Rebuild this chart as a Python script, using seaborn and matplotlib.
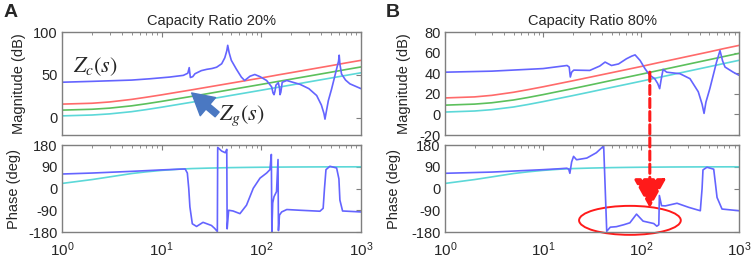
import matplotlib
matplotlib.use('Agg')
import matplotlib.pyplot as plt
import seaborn as sns
from matplotlib.patches import Ellipse, ConnectionPatch

# grid impedance curves (shared by both panels)
f_g = [1, 2, 3, 5, 7, 10, 15, 20, 30, 50, 70, 100, 150, 200, 300, 500, 700, 1000]
mag_red = [16, 17, 18.5, 21.5, 24, 26.8, 30.2, 32.6, 36.1, 40.5, 43.4, 46.5, 50.2, 52.7, 56.3, 60.8, 63.9, 67]
mag_green = [9, 10, 11.3, 14, 16.4, 19.2, 22.6, 25, 28.5, 33, 35.9, 39, 42.6, 45.1, 48.7, 53.2, 56.2, 59.3]
mag_cyan = [2.3, 3.3, 4.6, 7.2, 9.6, 12.4, 15.8, 18.2, 21.7, 26.2, 29.1, 32.2, 35.8, 38.3, 41.9, 46.4, 49.4, 52.5]
ph_cyan = [21, 37, 48, 62, 69, 75, 80, 82.5, 84.5, 86.5, 87.3, 88, 88.6, 89, 89.3, 89.6, 89.7, 89.8]

# converter impedance, capacity ratio 20%
fA_mag = [1, 2, 5, 7.6, 12, 16.5, 18.3, 18.9, 19.4, 20.5, 21.6, 25, 28.3, 32, 35.6, 40, 43, 45, 46, 47.5,
          50, 56, 63, 68, 77, 86, 97, 113, 127, 131, 134, 137, 140, 148, 152, 154, 157, 162, 180, 245,
          300, 359, 400, 425, 435, 445, 470, 507, 569, 595, 604, 615, 638, 700, 774, 1000]
A_mag = [41.5, 42.5, 44, 45.5, 47.5, 49.5, 52, 58.5, 47, 48, 51.4, 55, 56.5, 57.5, 59, 63, 70, 78, 84.5, 76,
         67, 57, 47.5, 43.5, 48.5, 50.5, 48, 43.5, 36, 29, 27, 31, 38, 41, 35, 27, 30, 41.5, 43.5, 39,
         34, 26, 15, 5, -1.5, 5, 20, 33.7, 57, 66, 73, 62, 51, 44, 39.6, 34]
fA_ph = [1, 2, 5, 10, 15, 17.2, 18.1, 18.7, 19.2, 20.3, 22.4, 26, 31.6, 34, 36.2, 36.5, 40, 43.5, 45, 45.4,
         47, 52, 61, 71, 83, 97, 113, 122, 126, 127.5, 130, 134, 142, 147, 148.5, 152, 160, 180, 244,
         387, 417, 430, 445, 487, 569, 600, 614, 653, 1000]
A_ph = [60, 64, 71, 77, 80, 81, 64, 0, -76, -146, -157, -140, -153, -165, -178, 170, 155, 148, 162, -167,
        -90, -93, -104, -69, 1, 43, 64, 78, 141, -178, -60, -34, -13, 120, -174, -110, -97, -87, -90,
        -94, -82, 0, 78, 92, 85, 40, -48, -93, -97]

# converter impedance, capacity ratio 80%
fB_mag = [1, 3, 10, 17.6, 18.5, 19, 19.6, 20.6, 30, 38, 43, 50, 59, 71, 80, 87, 98, 110, 123, 138,
          148, 155, 160, 168, 183, 250, 316, 384, 420, 440, 460, 504, 590, 640, 680, 720, 873, 1000]
B_mag = [41, 42, 44.5, 47.5, 46, 36.3, 41, 43, 42.7, 47, 50.8, 47.5, 49, 54, 56.5, 57.8, 52.3, 44.3, 38, 34.7,
         30, 25, 33, 43.7, 41, 39.5, 34.7, 22, 10, 1, 12, 25, 50.8, 62, 52, 46, 41, 38]
fB_ph = [1, 3, 10, 15, 17.5, 18.3, 18.8, 19.6, 20.5, 22, 28, 35, 41.6, 44.7, 48.6, 56, 66.6, 77, 90, 105,
         135, 145, 152, 154, 162, 177, 233, 307, 403, 420, 429, 471, 552, 575, 597, 671, 1000]
B_ph = [63, 68, 78, 82, 84, 80, 63, 110, 133, 119, 126, 148, 176, -177, -160, -158, -150, -142, -106, -135,
        -145, -156, -150, -29, -71, -72, -61, -78, -92, 0, 77, 88, 80, 20, -37, -85, -92]

sns.set_style('white')
plt.rcParams['font.family'] = ['Liberation Sans', 'DejaVu Sans']
plt.rcParams['mathtext.fontset'] = 'custom'
plt.rcParams['mathtext.rm'] = 'Liberation Sans'
plt.rcParams['axes.unicode_minus'] = False

c_blue = '#6464ff'
c_red = '#ff6a6a'
c_green = '#5cc05c'
c_cyan = '#5cd8d8'
frame = '#7f7f7f'

fig = plt.figure(figsize=(7.54, 2.62), dpi=100)

def style(ax, ylim, yticks, show_x):
    ax.set_xscale('log')
    ax.set_xlim(1, 1000)
    ax.set_ylim(*ylim)
    ax.set_yticks(yticks)
    ax.tick_params(which='both', direction='in', top=True, right=True, color=frame,
                   labelsize=10.5, labelbottom=show_x, pad=3)
    ax.tick_params(axis='x', labelsize=11, pad=6)
    ax.tick_params(which='major', length=3.5)
    ax.tick_params(which='minor', length=2)
    for s in ax.spines.values():
        s.set_color(frame)
        s.set_linewidth(1)
    ax.set_xlabel('')

def line(ax, x, y, c):
    sns.lineplot(x=x, y=y, ax=ax, color=c, lw=1.2, estimator=None, sort=False)

panels = {}
for key, left, width, fx_m, m, fx_p, p, title, ylim, yt in [
        ('A', 0.0822, 0.3966, fA_mag, A_mag, fA_ph, A_ph, 'Capacity Ratio 20%', (-20, 100), [0, 50, 100]),
        ('B', 0.5902, 0.3899, fB_mag, B_mag, fB_ph, B_ph, 'Capacity Ratio 80%', (-20, 80), [-20, 0, 20, 40, 60, 80])]:
    axm = fig.add_axes([left, 0.4847, width, 0.3931])
    axp = fig.add_axes([left, 0.1145, width, 0.332])
    axm.set_xscale('log')
    axp.set_xscale('log')
    line(axm, f_g, mag_red, c_red)
    line(axm, f_g, mag_green, c_green)
    line(axm, f_g, mag_cyan, c_cyan)
    line(axm, fx_m, m, c_blue)
    line(axp, f_g, ph_cyan, c_cyan)
    line(axp, fx_p, p, c_blue)
    style(axm, ylim, yt, False)
    style(axp, (-180, 180), [-180, -90, 0, 90, 180], True)
    axm.set_title(title, fontsize=10.5, pad=5)
    axm.set_ylabel('Magnitude (dB)', fontsize=10.5)
    axp.set_ylabel('Phase (deg)', fontsize=10.5)
    panels[key] = (axm, axp)

axmA, axpA = panels['A']
axmB, axpB = panels['B']
axmA.yaxis.set_label_coords(-0.12, 0.5)
axpA.yaxis.set_label_coords(-0.137, 0.5)
axmB.yaxis.set_label_coords(-0.116, 0.5)
axpB.yaxis.set_label_coords(-0.15, 0.5)

fig.text(0.004, 0.952, 'A', fontsize=14, weight='bold', va='center')
fig.text(0.511, 0.952, 'B', fontsize=14, weight='bold', va='center')

# annotations in panel A
axmA.text(1.3, 60, r'$Z_c(s)$', fontsize=16, math_fontfamily='stix', va='center', ha='left')
axmA.annotate('', xy=(20, 29), xytext=(36, 4),
              arrowprops=dict(arrowstyle='simple,head_length=0.85,head_width=0.95,tail_width=0.25',
                              color='#4a78c2', mutation_scale=18, shrinkA=0, shrinkB=0))
axmA.text(38, 2, r'$Z_g(s)$', fontsize=16, math_fontfamily='stix', va='center', ha='left')

# annotations in panel B
con = ConnectionPatch(xyA=(123, 41), coordsA=axmB.transData,
                      xyB=(123, -80), coordsB=axpB.transData,
                      arrowstyle='-|>,head_length=0.9,head_width=0.5', mutation_scale=20,
                      linestyle=(0, (3, 1.3)), lw=2.2, color='#ff1a1a', shrinkA=0, shrinkB=0)
fig.add_artist(con)
axpB.add_patch(Ellipse((0.629, 0.134), 0.346, 0.333, transform=axpB.transAxes,
                       fill=False, edgecolor='#ff1a1a', lw=1.4, clip_on=False))

fig.savefig('out.png', dpi=100)
